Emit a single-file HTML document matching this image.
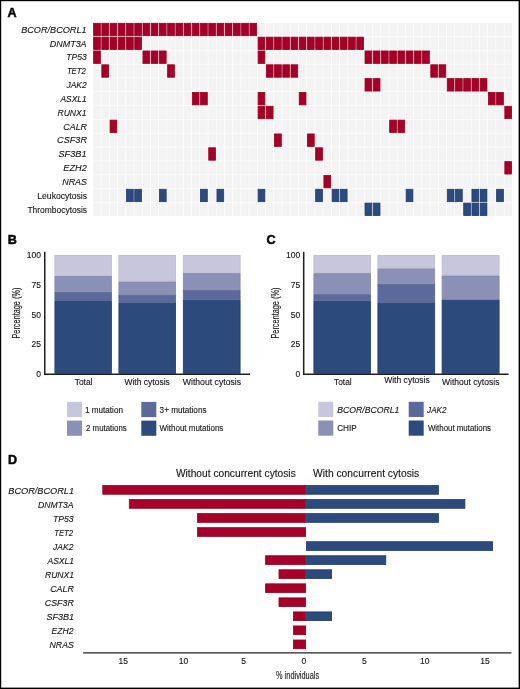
<!DOCTYPE html>
<html><head><meta charset="utf-8"><title>Figure</title>
<style>
html,body{margin:0;padding:0;background:#fff;}
body{width:520px;height:689px;overflow:hidden;position:relative;}
svg{position:absolute;left:0;top:0;display:block;will-change:transform;}
text{font-family:"Liberation Sans", sans-serif;fill:#141414;stroke:#141414;stroke-width:0.12px;}
.pl{font-weight:bold;font-size:12.6px;fill:#000;stroke-width:0.55px;}
.la{font-style:italic;font-size:9.9px;}
.lb{font-size:9.5px;}
.tk{font-size:8.5px;}
.yt{font-size:10.8px;}
.xl{font-size:9.0px;}
.lg{font-size:8.5px;}
.lgi{font-size:8.5px;font-style:italic;}
.ttl{font-size:10.2px;}
.ld{font-style:italic;font-size:9.6px;}
</style></head>
<body>
<svg width="520" height="689" viewBox="0 0 520 689">
<rect x="0" y="0" width="520" height="689" fill="#fff"/>
<text x="7.60" y="16.60" class="pl">A</text>
<rect x="93.60" y="23.30" width="6.77" height="12.43" fill="#a50029" stroke="#97001a" stroke-width="0.8"/>
<rect x="101.82" y="23.30" width="6.77" height="12.43" fill="#a50029" stroke="#97001a" stroke-width="0.8"/>
<rect x="110.05" y="23.30" width="6.77" height="12.43" fill="#a50029" stroke="#97001a" stroke-width="0.8"/>
<rect x="118.27" y="23.30" width="6.77" height="12.43" fill="#a50029" stroke="#97001a" stroke-width="0.8"/>
<rect x="126.50" y="23.30" width="6.77" height="12.43" fill="#a50029" stroke="#97001a" stroke-width="0.8"/>
<rect x="134.72" y="23.30" width="6.77" height="12.43" fill="#a50029" stroke="#97001a" stroke-width="0.8"/>
<rect x="142.95" y="23.30" width="6.77" height="12.43" fill="#a50029" stroke="#97001a" stroke-width="0.8"/>
<rect x="151.17" y="23.30" width="6.77" height="12.43" fill="#a50029" stroke="#97001a" stroke-width="0.8"/>
<rect x="159.40" y="23.30" width="6.77" height="12.43" fill="#a50029" stroke="#97001a" stroke-width="0.8"/>
<rect x="167.62" y="23.30" width="6.77" height="12.43" fill="#a50029" stroke="#97001a" stroke-width="0.8"/>
<rect x="175.85" y="23.30" width="6.77" height="12.43" fill="#a50029" stroke="#97001a" stroke-width="0.8"/>
<rect x="184.07" y="23.30" width="6.77" height="12.43" fill="#a50029" stroke="#97001a" stroke-width="0.8"/>
<rect x="192.29" y="23.30" width="6.77" height="12.43" fill="#a50029" stroke="#97001a" stroke-width="0.8"/>
<rect x="200.52" y="23.30" width="6.77" height="12.43" fill="#a50029" stroke="#97001a" stroke-width="0.8"/>
<rect x="208.74" y="23.30" width="6.77" height="12.43" fill="#a50029" stroke="#97001a" stroke-width="0.8"/>
<rect x="216.97" y="23.30" width="6.77" height="12.43" fill="#a50029" stroke="#97001a" stroke-width="0.8"/>
<rect x="225.19" y="23.30" width="6.77" height="12.43" fill="#a50029" stroke="#97001a" stroke-width="0.8"/>
<rect x="233.42" y="23.30" width="6.77" height="12.43" fill="#a50029" stroke="#97001a" stroke-width="0.8"/>
<rect x="241.64" y="23.30" width="6.77" height="12.43" fill="#a50029" stroke="#97001a" stroke-width="0.8"/>
<rect x="249.87" y="23.30" width="6.77" height="12.43" fill="#a50029" stroke="#97001a" stroke-width="0.8"/>
<rect x="257.69" y="22.90" width="7.57" height="13.23" fill="#f3f3f3"/>
<rect x="265.91" y="22.90" width="7.57" height="13.23" fill="#f3f3f3"/>
<rect x="274.14" y="22.90" width="7.57" height="13.23" fill="#f3f3f3"/>
<rect x="282.36" y="22.90" width="7.57" height="13.23" fill="#f3f3f3"/>
<rect x="290.59" y="22.90" width="7.57" height="13.23" fill="#f3f3f3"/>
<rect x="298.81" y="22.90" width="7.57" height="13.23" fill="#f3f3f3"/>
<rect x="307.04" y="22.90" width="7.57" height="13.23" fill="#f3f3f3"/>
<rect x="315.26" y="22.90" width="7.57" height="13.23" fill="#f3f3f3"/>
<rect x="323.49" y="22.90" width="7.57" height="13.23" fill="#f3f3f3"/>
<rect x="331.71" y="22.90" width="7.57" height="13.23" fill="#f3f3f3"/>
<rect x="339.94" y="22.90" width="7.57" height="13.23" fill="#f3f3f3"/>
<rect x="348.16" y="22.90" width="7.57" height="13.23" fill="#f3f3f3"/>
<rect x="356.38" y="22.90" width="7.57" height="13.23" fill="#f3f3f3"/>
<rect x="364.61" y="22.90" width="7.57" height="13.23" fill="#f3f3f3"/>
<rect x="372.83" y="22.90" width="7.57" height="13.23" fill="#f3f3f3"/>
<rect x="381.06" y="22.90" width="7.57" height="13.23" fill="#f3f3f3"/>
<rect x="389.28" y="22.90" width="7.57" height="13.23" fill="#f3f3f3"/>
<rect x="397.51" y="22.90" width="7.57" height="13.23" fill="#f3f3f3"/>
<rect x="405.73" y="22.90" width="7.57" height="13.23" fill="#f3f3f3"/>
<rect x="413.96" y="22.90" width="7.57" height="13.23" fill="#f3f3f3"/>
<rect x="422.18" y="22.90" width="7.57" height="13.23" fill="#f3f3f3"/>
<rect x="430.40" y="22.90" width="7.57" height="13.23" fill="#f3f3f3"/>
<rect x="438.63" y="22.90" width="7.57" height="13.23" fill="#f3f3f3"/>
<rect x="446.85" y="22.90" width="7.57" height="13.23" fill="#f3f3f3"/>
<rect x="455.08" y="22.90" width="7.57" height="13.23" fill="#f3f3f3"/>
<rect x="463.30" y="22.90" width="7.57" height="13.23" fill="#f3f3f3"/>
<rect x="471.53" y="22.90" width="7.57" height="13.23" fill="#f3f3f3"/>
<rect x="479.75" y="22.90" width="7.57" height="13.23" fill="#f3f3f3"/>
<rect x="487.98" y="22.90" width="7.57" height="13.23" fill="#f3f3f3"/>
<rect x="496.20" y="22.90" width="7.57" height="13.23" fill="#f3f3f3"/>
<rect x="504.43" y="22.90" width="7.57" height="13.23" fill="#f3f3f3"/>
<text x="86.60" y="32.72" class="la" text-anchor="end" textLength="65.44" lengthAdjust="spacingAndGlyphs">BCOR/BCORL1</text>
<rect x="93.60" y="37.13" width="6.77" height="12.43" fill="#a50029" stroke="#97001a" stroke-width="0.8"/>
<rect x="101.82" y="37.13" width="6.77" height="12.43" fill="#a50029" stroke="#97001a" stroke-width="0.8"/>
<rect x="110.05" y="37.13" width="6.77" height="12.43" fill="#a50029" stroke="#97001a" stroke-width="0.8"/>
<rect x="118.27" y="37.13" width="6.77" height="12.43" fill="#a50029" stroke="#97001a" stroke-width="0.8"/>
<rect x="126.50" y="37.13" width="6.77" height="12.43" fill="#a50029" stroke="#97001a" stroke-width="0.8"/>
<rect x="134.72" y="37.13" width="6.77" height="12.43" fill="#a50029" stroke="#97001a" stroke-width="0.8"/>
<rect x="142.55" y="36.73" width="7.57" height="13.23" fill="#f3f3f3"/>
<rect x="150.77" y="36.73" width="7.57" height="13.23" fill="#f3f3f3"/>
<rect x="159.00" y="36.73" width="7.57" height="13.23" fill="#f3f3f3"/>
<rect x="167.22" y="36.73" width="7.57" height="13.23" fill="#f3f3f3"/>
<rect x="175.45" y="36.73" width="7.57" height="13.23" fill="#f3f3f3"/>
<rect x="183.67" y="36.73" width="7.57" height="13.23" fill="#f3f3f3"/>
<rect x="191.89" y="36.73" width="7.57" height="13.23" fill="#f3f3f3"/>
<rect x="200.12" y="36.73" width="7.57" height="13.23" fill="#f3f3f3"/>
<rect x="208.34" y="36.73" width="7.57" height="13.23" fill="#f3f3f3"/>
<rect x="216.57" y="36.73" width="7.57" height="13.23" fill="#f3f3f3"/>
<rect x="224.79" y="36.73" width="7.57" height="13.23" fill="#f3f3f3"/>
<rect x="233.02" y="36.73" width="7.57" height="13.23" fill="#f3f3f3"/>
<rect x="241.24" y="36.73" width="7.57" height="13.23" fill="#f3f3f3"/>
<rect x="249.47" y="36.73" width="7.57" height="13.23" fill="#f3f3f3"/>
<rect x="258.09" y="37.13" width="6.77" height="12.43" fill="#a50029" stroke="#97001a" stroke-width="0.8"/>
<rect x="266.31" y="37.13" width="6.77" height="12.43" fill="#a50029" stroke="#97001a" stroke-width="0.8"/>
<rect x="274.54" y="37.13" width="6.77" height="12.43" fill="#a50029" stroke="#97001a" stroke-width="0.8"/>
<rect x="282.76" y="37.13" width="6.77" height="12.43" fill="#a50029" stroke="#97001a" stroke-width="0.8"/>
<rect x="290.99" y="37.13" width="6.77" height="12.43" fill="#a50029" stroke="#97001a" stroke-width="0.8"/>
<rect x="299.21" y="37.13" width="6.77" height="12.43" fill="#a50029" stroke="#97001a" stroke-width="0.8"/>
<rect x="307.44" y="37.13" width="6.77" height="12.43" fill="#a50029" stroke="#97001a" stroke-width="0.8"/>
<rect x="315.66" y="37.13" width="6.77" height="12.43" fill="#a50029" stroke="#97001a" stroke-width="0.8"/>
<rect x="323.89" y="37.13" width="6.77" height="12.43" fill="#a50029" stroke="#97001a" stroke-width="0.8"/>
<rect x="332.11" y="37.13" width="6.77" height="12.43" fill="#a50029" stroke="#97001a" stroke-width="0.8"/>
<rect x="340.34" y="37.13" width="6.77" height="12.43" fill="#a50029" stroke="#97001a" stroke-width="0.8"/>
<rect x="348.56" y="37.13" width="6.77" height="12.43" fill="#a50029" stroke="#97001a" stroke-width="0.8"/>
<rect x="356.78" y="37.13" width="6.77" height="12.43" fill="#a50029" stroke="#97001a" stroke-width="0.8"/>
<rect x="364.61" y="36.73" width="7.57" height="13.23" fill="#f3f3f3"/>
<rect x="372.83" y="36.73" width="7.57" height="13.23" fill="#f3f3f3"/>
<rect x="381.06" y="36.73" width="7.57" height="13.23" fill="#f3f3f3"/>
<rect x="389.28" y="36.73" width="7.57" height="13.23" fill="#f3f3f3"/>
<rect x="397.51" y="36.73" width="7.57" height="13.23" fill="#f3f3f3"/>
<rect x="405.73" y="36.73" width="7.57" height="13.23" fill="#f3f3f3"/>
<rect x="413.96" y="36.73" width="7.57" height="13.23" fill="#f3f3f3"/>
<rect x="422.18" y="36.73" width="7.57" height="13.23" fill="#f3f3f3"/>
<rect x="430.40" y="36.73" width="7.57" height="13.23" fill="#f3f3f3"/>
<rect x="438.63" y="36.73" width="7.57" height="13.23" fill="#f3f3f3"/>
<rect x="446.85" y="36.73" width="7.57" height="13.23" fill="#f3f3f3"/>
<rect x="455.08" y="36.73" width="7.57" height="13.23" fill="#f3f3f3"/>
<rect x="463.30" y="36.73" width="7.57" height="13.23" fill="#f3f3f3"/>
<rect x="471.53" y="36.73" width="7.57" height="13.23" fill="#f3f3f3"/>
<rect x="479.75" y="36.73" width="7.57" height="13.23" fill="#f3f3f3"/>
<rect x="487.98" y="36.73" width="7.57" height="13.23" fill="#f3f3f3"/>
<rect x="496.20" y="36.73" width="7.57" height="13.23" fill="#f3f3f3"/>
<rect x="504.43" y="36.73" width="7.57" height="13.23" fill="#f3f3f3"/>
<text x="86.60" y="46.55" class="la" text-anchor="end" textLength="36.82" lengthAdjust="spacingAndGlyphs">DNMT3A</text>
<rect x="93.60" y="50.96" width="6.77" height="12.43" fill="#a50029" stroke="#97001a" stroke-width="0.8"/>
<rect x="101.42" y="50.56" width="7.57" height="13.23" fill="#f3f3f3"/>
<rect x="109.65" y="50.56" width="7.57" height="13.23" fill="#f3f3f3"/>
<rect x="117.87" y="50.56" width="7.57" height="13.23" fill="#f3f3f3"/>
<rect x="126.10" y="50.56" width="7.57" height="13.23" fill="#f3f3f3"/>
<rect x="134.32" y="50.56" width="7.57" height="13.23" fill="#f3f3f3"/>
<rect x="142.95" y="50.96" width="6.77" height="12.43" fill="#a50029" stroke="#97001a" stroke-width="0.8"/>
<rect x="151.17" y="50.96" width="6.77" height="12.43" fill="#a50029" stroke="#97001a" stroke-width="0.8"/>
<rect x="159.40" y="50.96" width="6.77" height="12.43" fill="#a50029" stroke="#97001a" stroke-width="0.8"/>
<rect x="167.22" y="50.56" width="7.57" height="13.23" fill="#f3f3f3"/>
<rect x="175.45" y="50.56" width="7.57" height="13.23" fill="#f3f3f3"/>
<rect x="183.67" y="50.56" width="7.57" height="13.23" fill="#f3f3f3"/>
<rect x="191.89" y="50.56" width="7.57" height="13.23" fill="#f3f3f3"/>
<rect x="200.12" y="50.56" width="7.57" height="13.23" fill="#f3f3f3"/>
<rect x="208.34" y="50.56" width="7.57" height="13.23" fill="#f3f3f3"/>
<rect x="216.57" y="50.56" width="7.57" height="13.23" fill="#f3f3f3"/>
<rect x="224.79" y="50.56" width="7.57" height="13.23" fill="#f3f3f3"/>
<rect x="233.02" y="50.56" width="7.57" height="13.23" fill="#f3f3f3"/>
<rect x="241.24" y="50.56" width="7.57" height="13.23" fill="#f3f3f3"/>
<rect x="249.47" y="50.56" width="7.57" height="13.23" fill="#f3f3f3"/>
<rect x="258.09" y="50.96" width="6.77" height="12.43" fill="#a50029" stroke="#97001a" stroke-width="0.8"/>
<rect x="265.91" y="50.56" width="7.57" height="13.23" fill="#f3f3f3"/>
<rect x="274.14" y="50.56" width="7.57" height="13.23" fill="#f3f3f3"/>
<rect x="282.36" y="50.56" width="7.57" height="13.23" fill="#f3f3f3"/>
<rect x="290.59" y="50.56" width="7.57" height="13.23" fill="#f3f3f3"/>
<rect x="298.81" y="50.56" width="7.57" height="13.23" fill="#f3f3f3"/>
<rect x="307.04" y="50.56" width="7.57" height="13.23" fill="#f3f3f3"/>
<rect x="315.26" y="50.56" width="7.57" height="13.23" fill="#f3f3f3"/>
<rect x="323.49" y="50.56" width="7.57" height="13.23" fill="#f3f3f3"/>
<rect x="331.71" y="50.56" width="7.57" height="13.23" fill="#f3f3f3"/>
<rect x="339.94" y="50.56" width="7.57" height="13.23" fill="#f3f3f3"/>
<rect x="348.16" y="50.56" width="7.57" height="13.23" fill="#f3f3f3"/>
<rect x="356.38" y="50.56" width="7.57" height="13.23" fill="#f3f3f3"/>
<rect x="365.01" y="50.96" width="6.77" height="12.43" fill="#a50029" stroke="#97001a" stroke-width="0.8"/>
<rect x="373.23" y="50.96" width="6.77" height="12.43" fill="#a50029" stroke="#97001a" stroke-width="0.8"/>
<rect x="381.46" y="50.96" width="6.77" height="12.43" fill="#a50029" stroke="#97001a" stroke-width="0.8"/>
<rect x="389.68" y="50.96" width="6.77" height="12.43" fill="#a50029" stroke="#97001a" stroke-width="0.8"/>
<rect x="397.91" y="50.96" width="6.77" height="12.43" fill="#a50029" stroke="#97001a" stroke-width="0.8"/>
<rect x="406.13" y="50.96" width="6.77" height="12.43" fill="#a50029" stroke="#97001a" stroke-width="0.8"/>
<rect x="414.36" y="50.96" width="6.77" height="12.43" fill="#a50029" stroke="#97001a" stroke-width="0.8"/>
<rect x="422.58" y="50.96" width="6.77" height="12.43" fill="#a50029" stroke="#97001a" stroke-width="0.8"/>
<rect x="430.40" y="50.56" width="7.57" height="13.23" fill="#f3f3f3"/>
<rect x="438.63" y="50.56" width="7.57" height="13.23" fill="#f3f3f3"/>
<rect x="446.85" y="50.56" width="7.57" height="13.23" fill="#f3f3f3"/>
<rect x="455.08" y="50.56" width="7.57" height="13.23" fill="#f3f3f3"/>
<rect x="463.30" y="50.56" width="7.57" height="13.23" fill="#f3f3f3"/>
<rect x="471.53" y="50.56" width="7.57" height="13.23" fill="#f3f3f3"/>
<rect x="479.75" y="50.56" width="7.57" height="13.23" fill="#f3f3f3"/>
<rect x="487.98" y="50.56" width="7.57" height="13.23" fill="#f3f3f3"/>
<rect x="496.20" y="50.56" width="7.57" height="13.23" fill="#f3f3f3"/>
<rect x="504.43" y="50.56" width="7.57" height="13.23" fill="#f3f3f3"/>
<text x="86.80" y="60.38" class="la" text-anchor="end" textLength="20.48" lengthAdjust="spacingAndGlyphs">TP53</text>
<rect x="93.20" y="64.39" width="7.57" height="13.23" fill="#f3f3f3"/>
<rect x="101.82" y="64.79" width="6.77" height="12.43" fill="#a50029" stroke="#97001a" stroke-width="0.8"/>
<rect x="109.65" y="64.39" width="7.57" height="13.23" fill="#f3f3f3"/>
<rect x="117.87" y="64.39" width="7.57" height="13.23" fill="#f3f3f3"/>
<rect x="126.10" y="64.39" width="7.57" height="13.23" fill="#f3f3f3"/>
<rect x="134.32" y="64.39" width="7.57" height="13.23" fill="#f3f3f3"/>
<rect x="142.55" y="64.39" width="7.57" height="13.23" fill="#f3f3f3"/>
<rect x="150.77" y="64.39" width="7.57" height="13.23" fill="#f3f3f3"/>
<rect x="159.00" y="64.39" width="7.57" height="13.23" fill="#f3f3f3"/>
<rect x="167.62" y="64.79" width="6.77" height="12.43" fill="#a50029" stroke="#97001a" stroke-width="0.8"/>
<rect x="175.45" y="64.39" width="7.57" height="13.23" fill="#f3f3f3"/>
<rect x="183.67" y="64.39" width="7.57" height="13.23" fill="#f3f3f3"/>
<rect x="191.89" y="64.39" width="7.57" height="13.23" fill="#f3f3f3"/>
<rect x="200.12" y="64.39" width="7.57" height="13.23" fill="#f3f3f3"/>
<rect x="208.34" y="64.39" width="7.57" height="13.23" fill="#f3f3f3"/>
<rect x="216.57" y="64.39" width="7.57" height="13.23" fill="#f3f3f3"/>
<rect x="224.79" y="64.39" width="7.57" height="13.23" fill="#f3f3f3"/>
<rect x="233.02" y="64.39" width="7.57" height="13.23" fill="#f3f3f3"/>
<rect x="241.24" y="64.39" width="7.57" height="13.23" fill="#f3f3f3"/>
<rect x="249.47" y="64.39" width="7.57" height="13.23" fill="#f3f3f3"/>
<rect x="257.69" y="64.39" width="7.57" height="13.23" fill="#f3f3f3"/>
<rect x="266.31" y="64.79" width="6.77" height="12.43" fill="#a50029" stroke="#97001a" stroke-width="0.8"/>
<rect x="274.54" y="64.79" width="6.77" height="12.43" fill="#a50029" stroke="#97001a" stroke-width="0.8"/>
<rect x="282.76" y="64.79" width="6.77" height="12.43" fill="#a50029" stroke="#97001a" stroke-width="0.8"/>
<rect x="290.99" y="64.79" width="6.77" height="12.43" fill="#a50029" stroke="#97001a" stroke-width="0.8"/>
<rect x="298.81" y="64.39" width="7.57" height="13.23" fill="#f3f3f3"/>
<rect x="307.04" y="64.39" width="7.57" height="13.23" fill="#f3f3f3"/>
<rect x="315.26" y="64.39" width="7.57" height="13.23" fill="#f3f3f3"/>
<rect x="323.49" y="64.39" width="7.57" height="13.23" fill="#f3f3f3"/>
<rect x="331.71" y="64.39" width="7.57" height="13.23" fill="#f3f3f3"/>
<rect x="339.94" y="64.39" width="7.57" height="13.23" fill="#f3f3f3"/>
<rect x="348.16" y="64.39" width="7.57" height="13.23" fill="#f3f3f3"/>
<rect x="356.38" y="64.39" width="7.57" height="13.23" fill="#f3f3f3"/>
<rect x="364.61" y="64.39" width="7.57" height="13.23" fill="#f3f3f3"/>
<rect x="372.83" y="64.39" width="7.57" height="13.23" fill="#f3f3f3"/>
<rect x="381.06" y="64.39" width="7.57" height="13.23" fill="#f3f3f3"/>
<rect x="389.28" y="64.39" width="7.57" height="13.23" fill="#f3f3f3"/>
<rect x="397.51" y="64.39" width="7.57" height="13.23" fill="#f3f3f3"/>
<rect x="405.73" y="64.39" width="7.57" height="13.23" fill="#f3f3f3"/>
<rect x="413.96" y="64.39" width="7.57" height="13.23" fill="#f3f3f3"/>
<rect x="422.18" y="64.39" width="7.57" height="13.23" fill="#f3f3f3"/>
<rect x="430.80" y="64.79" width="6.77" height="12.43" fill="#a50029" stroke="#97001a" stroke-width="0.8"/>
<rect x="439.03" y="64.79" width="6.77" height="12.43" fill="#a50029" stroke="#97001a" stroke-width="0.8"/>
<rect x="446.85" y="64.39" width="7.57" height="13.23" fill="#f3f3f3"/>
<rect x="455.08" y="64.39" width="7.57" height="13.23" fill="#f3f3f3"/>
<rect x="463.30" y="64.39" width="7.57" height="13.23" fill="#f3f3f3"/>
<rect x="471.53" y="64.39" width="7.57" height="13.23" fill="#f3f3f3"/>
<rect x="479.75" y="64.39" width="7.57" height="13.23" fill="#f3f3f3"/>
<rect x="487.98" y="64.39" width="7.57" height="13.23" fill="#f3f3f3"/>
<rect x="496.20" y="64.39" width="7.57" height="13.23" fill="#f3f3f3"/>
<rect x="504.43" y="64.39" width="7.57" height="13.23" fill="#f3f3f3"/>
<text x="85.80" y="74.20" class="la" text-anchor="end" textLength="18.92" lengthAdjust="spacingAndGlyphs">TET2</text>
<rect x="93.20" y="78.22" width="7.57" height="13.23" fill="#f3f3f3"/>
<rect x="101.42" y="78.22" width="7.57" height="13.23" fill="#f3f3f3"/>
<rect x="109.65" y="78.22" width="7.57" height="13.23" fill="#f3f3f3"/>
<rect x="117.87" y="78.22" width="7.57" height="13.23" fill="#f3f3f3"/>
<rect x="126.10" y="78.22" width="7.57" height="13.23" fill="#f3f3f3"/>
<rect x="134.32" y="78.22" width="7.57" height="13.23" fill="#f3f3f3"/>
<rect x="142.55" y="78.22" width="7.57" height="13.23" fill="#f3f3f3"/>
<rect x="150.77" y="78.22" width="7.57" height="13.23" fill="#f3f3f3"/>
<rect x="159.00" y="78.22" width="7.57" height="13.23" fill="#f3f3f3"/>
<rect x="167.22" y="78.22" width="7.57" height="13.23" fill="#f3f3f3"/>
<rect x="175.45" y="78.22" width="7.57" height="13.23" fill="#f3f3f3"/>
<rect x="183.67" y="78.22" width="7.57" height="13.23" fill="#f3f3f3"/>
<rect x="191.89" y="78.22" width="7.57" height="13.23" fill="#f3f3f3"/>
<rect x="200.12" y="78.22" width="7.57" height="13.23" fill="#f3f3f3"/>
<rect x="208.34" y="78.22" width="7.57" height="13.23" fill="#f3f3f3"/>
<rect x="216.57" y="78.22" width="7.57" height="13.23" fill="#f3f3f3"/>
<rect x="224.79" y="78.22" width="7.57" height="13.23" fill="#f3f3f3"/>
<rect x="233.02" y="78.22" width="7.57" height="13.23" fill="#f3f3f3"/>
<rect x="241.24" y="78.22" width="7.57" height="13.23" fill="#f3f3f3"/>
<rect x="249.47" y="78.22" width="7.57" height="13.23" fill="#f3f3f3"/>
<rect x="257.69" y="78.22" width="7.57" height="13.23" fill="#f3f3f3"/>
<rect x="265.91" y="78.22" width="7.57" height="13.23" fill="#f3f3f3"/>
<rect x="274.14" y="78.22" width="7.57" height="13.23" fill="#f3f3f3"/>
<rect x="282.36" y="78.22" width="7.57" height="13.23" fill="#f3f3f3"/>
<rect x="290.59" y="78.22" width="7.57" height="13.23" fill="#f3f3f3"/>
<rect x="298.81" y="78.22" width="7.57" height="13.23" fill="#f3f3f3"/>
<rect x="307.04" y="78.22" width="7.57" height="13.23" fill="#f3f3f3"/>
<rect x="315.26" y="78.22" width="7.57" height="13.23" fill="#f3f3f3"/>
<rect x="323.49" y="78.22" width="7.57" height="13.23" fill="#f3f3f3"/>
<rect x="331.71" y="78.22" width="7.57" height="13.23" fill="#f3f3f3"/>
<rect x="339.94" y="78.22" width="7.57" height="13.23" fill="#f3f3f3"/>
<rect x="348.16" y="78.22" width="7.57" height="13.23" fill="#f3f3f3"/>
<rect x="356.38" y="78.22" width="7.57" height="13.23" fill="#f3f3f3"/>
<rect x="365.01" y="78.62" width="6.77" height="12.43" fill="#a50029" stroke="#97001a" stroke-width="0.8"/>
<rect x="373.23" y="78.62" width="6.77" height="12.43" fill="#a50029" stroke="#97001a" stroke-width="0.8"/>
<rect x="381.06" y="78.22" width="7.57" height="13.23" fill="#f3f3f3"/>
<rect x="389.28" y="78.22" width="7.57" height="13.23" fill="#f3f3f3"/>
<rect x="397.51" y="78.22" width="7.57" height="13.23" fill="#f3f3f3"/>
<rect x="405.73" y="78.22" width="7.57" height="13.23" fill="#f3f3f3"/>
<rect x="413.96" y="78.22" width="7.57" height="13.23" fill="#f3f3f3"/>
<rect x="422.18" y="78.22" width="7.57" height="13.23" fill="#f3f3f3"/>
<rect x="430.40" y="78.22" width="7.57" height="13.23" fill="#f3f3f3"/>
<rect x="438.63" y="78.22" width="7.57" height="13.23" fill="#f3f3f3"/>
<rect x="447.25" y="78.62" width="6.77" height="12.43" fill="#a50029" stroke="#97001a" stroke-width="0.8"/>
<rect x="455.48" y="78.62" width="6.77" height="12.43" fill="#a50029" stroke="#97001a" stroke-width="0.8"/>
<rect x="463.70" y="78.62" width="6.77" height="12.43" fill="#a50029" stroke="#97001a" stroke-width="0.8"/>
<rect x="471.93" y="78.62" width="6.77" height="12.43" fill="#a50029" stroke="#97001a" stroke-width="0.8"/>
<rect x="480.15" y="78.62" width="6.77" height="12.43" fill="#a50029" stroke="#97001a" stroke-width="0.8"/>
<rect x="487.98" y="78.22" width="7.57" height="13.23" fill="#f3f3f3"/>
<rect x="496.20" y="78.22" width="7.57" height="13.23" fill="#f3f3f3"/>
<rect x="504.43" y="78.22" width="7.57" height="13.23" fill="#f3f3f3"/>
<text x="86.80" y="88.03" class="la" text-anchor="end" textLength="20.42" lengthAdjust="spacingAndGlyphs">JAK2</text>
<rect x="93.20" y="92.05" width="7.57" height="13.23" fill="#f3f3f3"/>
<rect x="101.42" y="92.05" width="7.57" height="13.23" fill="#f3f3f3"/>
<rect x="109.65" y="92.05" width="7.57" height="13.23" fill="#f3f3f3"/>
<rect x="117.87" y="92.05" width="7.57" height="13.23" fill="#f3f3f3"/>
<rect x="126.10" y="92.05" width="7.57" height="13.23" fill="#f3f3f3"/>
<rect x="134.32" y="92.05" width="7.57" height="13.23" fill="#f3f3f3"/>
<rect x="142.55" y="92.05" width="7.57" height="13.23" fill="#f3f3f3"/>
<rect x="150.77" y="92.05" width="7.57" height="13.23" fill="#f3f3f3"/>
<rect x="159.00" y="92.05" width="7.57" height="13.23" fill="#f3f3f3"/>
<rect x="167.22" y="92.05" width="7.57" height="13.23" fill="#f3f3f3"/>
<rect x="175.45" y="92.05" width="7.57" height="13.23" fill="#f3f3f3"/>
<rect x="183.67" y="92.05" width="7.57" height="13.23" fill="#f3f3f3"/>
<rect x="192.29" y="92.45" width="6.77" height="12.43" fill="#a50029" stroke="#97001a" stroke-width="0.8"/>
<rect x="200.52" y="92.45" width="6.77" height="12.43" fill="#a50029" stroke="#97001a" stroke-width="0.8"/>
<rect x="208.34" y="92.05" width="7.57" height="13.23" fill="#f3f3f3"/>
<rect x="216.57" y="92.05" width="7.57" height="13.23" fill="#f3f3f3"/>
<rect x="224.79" y="92.05" width="7.57" height="13.23" fill="#f3f3f3"/>
<rect x="233.02" y="92.05" width="7.57" height="13.23" fill="#f3f3f3"/>
<rect x="241.24" y="92.05" width="7.57" height="13.23" fill="#f3f3f3"/>
<rect x="249.47" y="92.05" width="7.57" height="13.23" fill="#f3f3f3"/>
<rect x="258.09" y="92.45" width="6.77" height="12.43" fill="#a50029" stroke="#97001a" stroke-width="0.8"/>
<rect x="265.91" y="92.05" width="7.57" height="13.23" fill="#f3f3f3"/>
<rect x="274.14" y="92.05" width="7.57" height="13.23" fill="#f3f3f3"/>
<rect x="282.36" y="92.05" width="7.57" height="13.23" fill="#f3f3f3"/>
<rect x="290.59" y="92.05" width="7.57" height="13.23" fill="#f3f3f3"/>
<rect x="299.21" y="92.45" width="6.77" height="12.43" fill="#a50029" stroke="#97001a" stroke-width="0.8"/>
<rect x="307.04" y="92.05" width="7.57" height="13.23" fill="#f3f3f3"/>
<rect x="315.26" y="92.05" width="7.57" height="13.23" fill="#f3f3f3"/>
<rect x="323.49" y="92.05" width="7.57" height="13.23" fill="#f3f3f3"/>
<rect x="331.71" y="92.05" width="7.57" height="13.23" fill="#f3f3f3"/>
<rect x="339.94" y="92.05" width="7.57" height="13.23" fill="#f3f3f3"/>
<rect x="348.16" y="92.05" width="7.57" height="13.23" fill="#f3f3f3"/>
<rect x="356.38" y="92.05" width="7.57" height="13.23" fill="#f3f3f3"/>
<rect x="364.61" y="92.05" width="7.57" height="13.23" fill="#f3f3f3"/>
<rect x="372.83" y="92.05" width="7.57" height="13.23" fill="#f3f3f3"/>
<rect x="381.06" y="92.05" width="7.57" height="13.23" fill="#f3f3f3"/>
<rect x="389.28" y="92.05" width="7.57" height="13.23" fill="#f3f3f3"/>
<rect x="397.51" y="92.05" width="7.57" height="13.23" fill="#f3f3f3"/>
<rect x="405.73" y="92.05" width="7.57" height="13.23" fill="#f3f3f3"/>
<rect x="413.96" y="92.05" width="7.57" height="13.23" fill="#f3f3f3"/>
<rect x="422.18" y="92.05" width="7.57" height="13.23" fill="#f3f3f3"/>
<rect x="430.40" y="92.05" width="7.57" height="13.23" fill="#f3f3f3"/>
<rect x="438.63" y="92.05" width="7.57" height="13.23" fill="#f3f3f3"/>
<rect x="446.85" y="92.05" width="7.57" height="13.23" fill="#f3f3f3"/>
<rect x="455.08" y="92.05" width="7.57" height="13.23" fill="#f3f3f3"/>
<rect x="463.30" y="92.05" width="7.57" height="13.23" fill="#f3f3f3"/>
<rect x="471.53" y="92.05" width="7.57" height="13.23" fill="#f3f3f3"/>
<rect x="479.75" y="92.05" width="7.57" height="13.23" fill="#f3f3f3"/>
<rect x="488.38" y="92.45" width="6.77" height="12.43" fill="#a50029" stroke="#97001a" stroke-width="0.8"/>
<rect x="496.60" y="92.45" width="6.77" height="12.43" fill="#a50029" stroke="#97001a" stroke-width="0.8"/>
<rect x="504.43" y="92.05" width="7.57" height="13.23" fill="#f3f3f3"/>
<text x="86.60" y="101.87" class="la" text-anchor="end" textLength="26.17" lengthAdjust="spacingAndGlyphs">ASXL1</text>
<rect x="93.20" y="105.88" width="7.57" height="13.23" fill="#f3f3f3"/>
<rect x="101.42" y="105.88" width="7.57" height="13.23" fill="#f3f3f3"/>
<rect x="109.65" y="105.88" width="7.57" height="13.23" fill="#f3f3f3"/>
<rect x="117.87" y="105.88" width="7.57" height="13.23" fill="#f3f3f3"/>
<rect x="126.10" y="105.88" width="7.57" height="13.23" fill="#f3f3f3"/>
<rect x="134.32" y="105.88" width="7.57" height="13.23" fill="#f3f3f3"/>
<rect x="142.55" y="105.88" width="7.57" height="13.23" fill="#f3f3f3"/>
<rect x="150.77" y="105.88" width="7.57" height="13.23" fill="#f3f3f3"/>
<rect x="159.00" y="105.88" width="7.57" height="13.23" fill="#f3f3f3"/>
<rect x="167.22" y="105.88" width="7.57" height="13.23" fill="#f3f3f3"/>
<rect x="175.45" y="105.88" width="7.57" height="13.23" fill="#f3f3f3"/>
<rect x="183.67" y="105.88" width="7.57" height="13.23" fill="#f3f3f3"/>
<rect x="191.89" y="105.88" width="7.57" height="13.23" fill="#f3f3f3"/>
<rect x="200.12" y="105.88" width="7.57" height="13.23" fill="#f3f3f3"/>
<rect x="208.34" y="105.88" width="7.57" height="13.23" fill="#f3f3f3"/>
<rect x="216.57" y="105.88" width="7.57" height="13.23" fill="#f3f3f3"/>
<rect x="224.79" y="105.88" width="7.57" height="13.23" fill="#f3f3f3"/>
<rect x="233.02" y="105.88" width="7.57" height="13.23" fill="#f3f3f3"/>
<rect x="241.24" y="105.88" width="7.57" height="13.23" fill="#f3f3f3"/>
<rect x="249.47" y="105.88" width="7.57" height="13.23" fill="#f3f3f3"/>
<rect x="258.09" y="106.28" width="6.77" height="12.43" fill="#a50029" stroke="#97001a" stroke-width="0.8"/>
<rect x="266.31" y="106.28" width="6.77" height="12.43" fill="#a50029" stroke="#97001a" stroke-width="0.8"/>
<rect x="274.14" y="105.88" width="7.57" height="13.23" fill="#f3f3f3"/>
<rect x="282.36" y="105.88" width="7.57" height="13.23" fill="#f3f3f3"/>
<rect x="290.59" y="105.88" width="7.57" height="13.23" fill="#f3f3f3"/>
<rect x="298.81" y="105.88" width="7.57" height="13.23" fill="#f3f3f3"/>
<rect x="307.04" y="105.88" width="7.57" height="13.23" fill="#f3f3f3"/>
<rect x="315.26" y="105.88" width="7.57" height="13.23" fill="#f3f3f3"/>
<rect x="323.49" y="105.88" width="7.57" height="13.23" fill="#f3f3f3"/>
<rect x="331.71" y="105.88" width="7.57" height="13.23" fill="#f3f3f3"/>
<rect x="339.94" y="105.88" width="7.57" height="13.23" fill="#f3f3f3"/>
<rect x="348.16" y="105.88" width="7.57" height="13.23" fill="#f3f3f3"/>
<rect x="356.38" y="105.88" width="7.57" height="13.23" fill="#f3f3f3"/>
<rect x="364.61" y="105.88" width="7.57" height="13.23" fill="#f3f3f3"/>
<rect x="372.83" y="105.88" width="7.57" height="13.23" fill="#f3f3f3"/>
<rect x="381.06" y="105.88" width="7.57" height="13.23" fill="#f3f3f3"/>
<rect x="389.28" y="105.88" width="7.57" height="13.23" fill="#f3f3f3"/>
<rect x="397.51" y="105.88" width="7.57" height="13.23" fill="#f3f3f3"/>
<rect x="405.73" y="105.88" width="7.57" height="13.23" fill="#f3f3f3"/>
<rect x="413.96" y="105.88" width="7.57" height="13.23" fill="#f3f3f3"/>
<rect x="422.18" y="105.88" width="7.57" height="13.23" fill="#f3f3f3"/>
<rect x="430.40" y="105.88" width="7.57" height="13.23" fill="#f3f3f3"/>
<rect x="438.63" y="105.88" width="7.57" height="13.23" fill="#f3f3f3"/>
<rect x="446.85" y="105.88" width="7.57" height="13.23" fill="#f3f3f3"/>
<rect x="455.08" y="105.88" width="7.57" height="13.23" fill="#f3f3f3"/>
<rect x="463.30" y="105.88" width="7.57" height="13.23" fill="#f3f3f3"/>
<rect x="471.53" y="105.88" width="7.57" height="13.23" fill="#f3f3f3"/>
<rect x="479.75" y="105.88" width="7.57" height="13.23" fill="#f3f3f3"/>
<rect x="487.98" y="105.88" width="7.57" height="13.23" fill="#f3f3f3"/>
<rect x="496.20" y="105.88" width="7.57" height="13.23" fill="#f3f3f3"/>
<rect x="504.83" y="106.28" width="6.77" height="12.43" fill="#a50029" stroke="#97001a" stroke-width="0.8"/>
<text x="86.60" y="115.69" class="la" text-anchor="end" textLength="29.17" lengthAdjust="spacingAndGlyphs">RUNX1</text>
<rect x="93.20" y="119.71" width="7.57" height="13.23" fill="#f3f3f3"/>
<rect x="101.42" y="119.71" width="7.57" height="13.23" fill="#f3f3f3"/>
<rect x="110.05" y="120.11" width="6.77" height="12.43" fill="#a50029" stroke="#97001a" stroke-width="0.8"/>
<rect x="117.87" y="119.71" width="7.57" height="13.23" fill="#f3f3f3"/>
<rect x="126.10" y="119.71" width="7.57" height="13.23" fill="#f3f3f3"/>
<rect x="134.32" y="119.71" width="7.57" height="13.23" fill="#f3f3f3"/>
<rect x="142.55" y="119.71" width="7.57" height="13.23" fill="#f3f3f3"/>
<rect x="150.77" y="119.71" width="7.57" height="13.23" fill="#f3f3f3"/>
<rect x="159.00" y="119.71" width="7.57" height="13.23" fill="#f3f3f3"/>
<rect x="167.22" y="119.71" width="7.57" height="13.23" fill="#f3f3f3"/>
<rect x="175.45" y="119.71" width="7.57" height="13.23" fill="#f3f3f3"/>
<rect x="183.67" y="119.71" width="7.57" height="13.23" fill="#f3f3f3"/>
<rect x="191.89" y="119.71" width="7.57" height="13.23" fill="#f3f3f3"/>
<rect x="200.12" y="119.71" width="7.57" height="13.23" fill="#f3f3f3"/>
<rect x="208.34" y="119.71" width="7.57" height="13.23" fill="#f3f3f3"/>
<rect x="216.57" y="119.71" width="7.57" height="13.23" fill="#f3f3f3"/>
<rect x="224.79" y="119.71" width="7.57" height="13.23" fill="#f3f3f3"/>
<rect x="233.02" y="119.71" width="7.57" height="13.23" fill="#f3f3f3"/>
<rect x="241.24" y="119.71" width="7.57" height="13.23" fill="#f3f3f3"/>
<rect x="249.47" y="119.71" width="7.57" height="13.23" fill="#f3f3f3"/>
<rect x="257.69" y="119.71" width="7.57" height="13.23" fill="#f3f3f3"/>
<rect x="265.91" y="119.71" width="7.57" height="13.23" fill="#f3f3f3"/>
<rect x="274.14" y="119.71" width="7.57" height="13.23" fill="#f3f3f3"/>
<rect x="282.36" y="119.71" width="7.57" height="13.23" fill="#f3f3f3"/>
<rect x="290.59" y="119.71" width="7.57" height="13.23" fill="#f3f3f3"/>
<rect x="298.81" y="119.71" width="7.57" height="13.23" fill="#f3f3f3"/>
<rect x="307.04" y="119.71" width="7.57" height="13.23" fill="#f3f3f3"/>
<rect x="315.26" y="119.71" width="7.57" height="13.23" fill="#f3f3f3"/>
<rect x="323.49" y="119.71" width="7.57" height="13.23" fill="#f3f3f3"/>
<rect x="331.71" y="119.71" width="7.57" height="13.23" fill="#f3f3f3"/>
<rect x="339.94" y="119.71" width="7.57" height="13.23" fill="#f3f3f3"/>
<rect x="348.16" y="119.71" width="7.57" height="13.23" fill="#f3f3f3"/>
<rect x="356.38" y="119.71" width="7.57" height="13.23" fill="#f3f3f3"/>
<rect x="364.61" y="119.71" width="7.57" height="13.23" fill="#f3f3f3"/>
<rect x="372.83" y="119.71" width="7.57" height="13.23" fill="#f3f3f3"/>
<rect x="381.06" y="119.71" width="7.57" height="13.23" fill="#f3f3f3"/>
<rect x="389.68" y="120.11" width="6.77" height="12.43" fill="#a50029" stroke="#97001a" stroke-width="0.8"/>
<rect x="397.91" y="120.11" width="6.77" height="12.43" fill="#a50029" stroke="#97001a" stroke-width="0.8"/>
<rect x="405.73" y="119.71" width="7.57" height="13.23" fill="#f3f3f3"/>
<rect x="413.96" y="119.71" width="7.57" height="13.23" fill="#f3f3f3"/>
<rect x="422.18" y="119.71" width="7.57" height="13.23" fill="#f3f3f3"/>
<rect x="430.40" y="119.71" width="7.57" height="13.23" fill="#f3f3f3"/>
<rect x="438.63" y="119.71" width="7.57" height="13.23" fill="#f3f3f3"/>
<rect x="446.85" y="119.71" width="7.57" height="13.23" fill="#f3f3f3"/>
<rect x="455.08" y="119.71" width="7.57" height="13.23" fill="#f3f3f3"/>
<rect x="463.30" y="119.71" width="7.57" height="13.23" fill="#f3f3f3"/>
<rect x="471.53" y="119.71" width="7.57" height="13.23" fill="#f3f3f3"/>
<rect x="479.75" y="119.71" width="7.57" height="13.23" fill="#f3f3f3"/>
<rect x="487.98" y="119.71" width="7.57" height="13.23" fill="#f3f3f3"/>
<rect x="496.20" y="119.71" width="7.57" height="13.23" fill="#f3f3f3"/>
<rect x="504.43" y="119.71" width="7.57" height="13.23" fill="#f3f3f3"/>
<text x="87.00" y="129.53" class="la" text-anchor="end" textLength="23.67" lengthAdjust="spacingAndGlyphs">CALR</text>
<rect x="93.20" y="133.54" width="7.57" height="13.23" fill="#f3f3f3"/>
<rect x="101.42" y="133.54" width="7.57" height="13.23" fill="#f3f3f3"/>
<rect x="109.65" y="133.54" width="7.57" height="13.23" fill="#f3f3f3"/>
<rect x="117.87" y="133.54" width="7.57" height="13.23" fill="#f3f3f3"/>
<rect x="126.10" y="133.54" width="7.57" height="13.23" fill="#f3f3f3"/>
<rect x="134.32" y="133.54" width="7.57" height="13.23" fill="#f3f3f3"/>
<rect x="142.55" y="133.54" width="7.57" height="13.23" fill="#f3f3f3"/>
<rect x="150.77" y="133.54" width="7.57" height="13.23" fill="#f3f3f3"/>
<rect x="159.00" y="133.54" width="7.57" height="13.23" fill="#f3f3f3"/>
<rect x="167.22" y="133.54" width="7.57" height="13.23" fill="#f3f3f3"/>
<rect x="175.45" y="133.54" width="7.57" height="13.23" fill="#f3f3f3"/>
<rect x="183.67" y="133.54" width="7.57" height="13.23" fill="#f3f3f3"/>
<rect x="191.89" y="133.54" width="7.57" height="13.23" fill="#f3f3f3"/>
<rect x="200.12" y="133.54" width="7.57" height="13.23" fill="#f3f3f3"/>
<rect x="208.34" y="133.54" width="7.57" height="13.23" fill="#f3f3f3"/>
<rect x="216.57" y="133.54" width="7.57" height="13.23" fill="#f3f3f3"/>
<rect x="224.79" y="133.54" width="7.57" height="13.23" fill="#f3f3f3"/>
<rect x="233.02" y="133.54" width="7.57" height="13.23" fill="#f3f3f3"/>
<rect x="241.24" y="133.54" width="7.57" height="13.23" fill="#f3f3f3"/>
<rect x="249.47" y="133.54" width="7.57" height="13.23" fill="#f3f3f3"/>
<rect x="257.69" y="133.54" width="7.57" height="13.23" fill="#f3f3f3"/>
<rect x="265.91" y="133.54" width="7.57" height="13.23" fill="#f3f3f3"/>
<rect x="274.54" y="133.94" width="6.77" height="12.43" fill="#a50029" stroke="#97001a" stroke-width="0.8"/>
<rect x="282.36" y="133.54" width="7.57" height="13.23" fill="#f3f3f3"/>
<rect x="290.59" y="133.54" width="7.57" height="13.23" fill="#f3f3f3"/>
<rect x="298.81" y="133.54" width="7.57" height="13.23" fill="#f3f3f3"/>
<rect x="307.44" y="133.94" width="6.77" height="12.43" fill="#a50029" stroke="#97001a" stroke-width="0.8"/>
<rect x="315.26" y="133.54" width="7.57" height="13.23" fill="#f3f3f3"/>
<rect x="323.49" y="133.54" width="7.57" height="13.23" fill="#f3f3f3"/>
<rect x="331.71" y="133.54" width="7.57" height="13.23" fill="#f3f3f3"/>
<rect x="339.94" y="133.54" width="7.57" height="13.23" fill="#f3f3f3"/>
<rect x="348.16" y="133.54" width="7.57" height="13.23" fill="#f3f3f3"/>
<rect x="356.38" y="133.54" width="7.57" height="13.23" fill="#f3f3f3"/>
<rect x="364.61" y="133.54" width="7.57" height="13.23" fill="#f3f3f3"/>
<rect x="372.83" y="133.54" width="7.57" height="13.23" fill="#f3f3f3"/>
<rect x="381.06" y="133.54" width="7.57" height="13.23" fill="#f3f3f3"/>
<rect x="389.28" y="133.54" width="7.57" height="13.23" fill="#f3f3f3"/>
<rect x="397.51" y="133.54" width="7.57" height="13.23" fill="#f3f3f3"/>
<rect x="405.73" y="133.54" width="7.57" height="13.23" fill="#f3f3f3"/>
<rect x="413.96" y="133.54" width="7.57" height="13.23" fill="#f3f3f3"/>
<rect x="422.18" y="133.54" width="7.57" height="13.23" fill="#f3f3f3"/>
<rect x="430.40" y="133.54" width="7.57" height="13.23" fill="#f3f3f3"/>
<rect x="438.63" y="133.54" width="7.57" height="13.23" fill="#f3f3f3"/>
<rect x="446.85" y="133.54" width="7.57" height="13.23" fill="#f3f3f3"/>
<rect x="455.08" y="133.54" width="7.57" height="13.23" fill="#f3f3f3"/>
<rect x="463.30" y="133.54" width="7.57" height="13.23" fill="#f3f3f3"/>
<rect x="471.53" y="133.54" width="7.57" height="13.23" fill="#f3f3f3"/>
<rect x="479.75" y="133.54" width="7.57" height="13.23" fill="#f3f3f3"/>
<rect x="487.98" y="133.54" width="7.57" height="13.23" fill="#f3f3f3"/>
<rect x="496.20" y="133.54" width="7.57" height="13.23" fill="#f3f3f3"/>
<rect x="504.43" y="133.54" width="7.57" height="13.23" fill="#f3f3f3"/>
<text x="87.00" y="143.35" class="la" text-anchor="end" textLength="29.90" lengthAdjust="spacingAndGlyphs">CSF3R</text>
<rect x="93.20" y="147.37" width="7.57" height="13.23" fill="#f3f3f3"/>
<rect x="101.42" y="147.37" width="7.57" height="13.23" fill="#f3f3f3"/>
<rect x="109.65" y="147.37" width="7.57" height="13.23" fill="#f3f3f3"/>
<rect x="117.87" y="147.37" width="7.57" height="13.23" fill="#f3f3f3"/>
<rect x="126.10" y="147.37" width="7.57" height="13.23" fill="#f3f3f3"/>
<rect x="134.32" y="147.37" width="7.57" height="13.23" fill="#f3f3f3"/>
<rect x="142.55" y="147.37" width="7.57" height="13.23" fill="#f3f3f3"/>
<rect x="150.77" y="147.37" width="7.57" height="13.23" fill="#f3f3f3"/>
<rect x="159.00" y="147.37" width="7.57" height="13.23" fill="#f3f3f3"/>
<rect x="167.22" y="147.37" width="7.57" height="13.23" fill="#f3f3f3"/>
<rect x="175.45" y="147.37" width="7.57" height="13.23" fill="#f3f3f3"/>
<rect x="183.67" y="147.37" width="7.57" height="13.23" fill="#f3f3f3"/>
<rect x="191.89" y="147.37" width="7.57" height="13.23" fill="#f3f3f3"/>
<rect x="200.12" y="147.37" width="7.57" height="13.23" fill="#f3f3f3"/>
<rect x="208.74" y="147.77" width="6.77" height="12.43" fill="#a50029" stroke="#97001a" stroke-width="0.8"/>
<rect x="216.57" y="147.37" width="7.57" height="13.23" fill="#f3f3f3"/>
<rect x="224.79" y="147.37" width="7.57" height="13.23" fill="#f3f3f3"/>
<rect x="233.02" y="147.37" width="7.57" height="13.23" fill="#f3f3f3"/>
<rect x="241.24" y="147.37" width="7.57" height="13.23" fill="#f3f3f3"/>
<rect x="249.47" y="147.37" width="7.57" height="13.23" fill="#f3f3f3"/>
<rect x="257.69" y="147.37" width="7.57" height="13.23" fill="#f3f3f3"/>
<rect x="265.91" y="147.37" width="7.57" height="13.23" fill="#f3f3f3"/>
<rect x="274.14" y="147.37" width="7.57" height="13.23" fill="#f3f3f3"/>
<rect x="282.36" y="147.37" width="7.57" height="13.23" fill="#f3f3f3"/>
<rect x="290.59" y="147.37" width="7.57" height="13.23" fill="#f3f3f3"/>
<rect x="298.81" y="147.37" width="7.57" height="13.23" fill="#f3f3f3"/>
<rect x="307.04" y="147.37" width="7.57" height="13.23" fill="#f3f3f3"/>
<rect x="315.66" y="147.77" width="6.77" height="12.43" fill="#a50029" stroke="#97001a" stroke-width="0.8"/>
<rect x="323.49" y="147.37" width="7.57" height="13.23" fill="#f3f3f3"/>
<rect x="331.71" y="147.37" width="7.57" height="13.23" fill="#f3f3f3"/>
<rect x="339.94" y="147.37" width="7.57" height="13.23" fill="#f3f3f3"/>
<rect x="348.16" y="147.37" width="7.57" height="13.23" fill="#f3f3f3"/>
<rect x="356.38" y="147.37" width="7.57" height="13.23" fill="#f3f3f3"/>
<rect x="364.61" y="147.37" width="7.57" height="13.23" fill="#f3f3f3"/>
<rect x="372.83" y="147.37" width="7.57" height="13.23" fill="#f3f3f3"/>
<rect x="381.06" y="147.37" width="7.57" height="13.23" fill="#f3f3f3"/>
<rect x="389.28" y="147.37" width="7.57" height="13.23" fill="#f3f3f3"/>
<rect x="397.51" y="147.37" width="7.57" height="13.23" fill="#f3f3f3"/>
<rect x="405.73" y="147.37" width="7.57" height="13.23" fill="#f3f3f3"/>
<rect x="413.96" y="147.37" width="7.57" height="13.23" fill="#f3f3f3"/>
<rect x="422.18" y="147.37" width="7.57" height="13.23" fill="#f3f3f3"/>
<rect x="430.40" y="147.37" width="7.57" height="13.23" fill="#f3f3f3"/>
<rect x="438.63" y="147.37" width="7.57" height="13.23" fill="#f3f3f3"/>
<rect x="446.85" y="147.37" width="7.57" height="13.23" fill="#f3f3f3"/>
<rect x="455.08" y="147.37" width="7.57" height="13.23" fill="#f3f3f3"/>
<rect x="463.30" y="147.37" width="7.57" height="13.23" fill="#f3f3f3"/>
<rect x="471.53" y="147.37" width="7.57" height="13.23" fill="#f3f3f3"/>
<rect x="479.75" y="147.37" width="7.57" height="13.23" fill="#f3f3f3"/>
<rect x="487.98" y="147.37" width="7.57" height="13.23" fill="#f3f3f3"/>
<rect x="496.20" y="147.37" width="7.57" height="13.23" fill="#f3f3f3"/>
<rect x="504.43" y="147.37" width="7.57" height="13.23" fill="#f3f3f3"/>
<text x="86.60" y="157.19" class="la" text-anchor="end" textLength="28.12" lengthAdjust="spacingAndGlyphs">SF3B1</text>
<rect x="93.20" y="161.20" width="7.57" height="13.23" fill="#f3f3f3"/>
<rect x="101.42" y="161.20" width="7.57" height="13.23" fill="#f3f3f3"/>
<rect x="109.65" y="161.20" width="7.57" height="13.23" fill="#f3f3f3"/>
<rect x="117.87" y="161.20" width="7.57" height="13.23" fill="#f3f3f3"/>
<rect x="126.10" y="161.20" width="7.57" height="13.23" fill="#f3f3f3"/>
<rect x="134.32" y="161.20" width="7.57" height="13.23" fill="#f3f3f3"/>
<rect x="142.55" y="161.20" width="7.57" height="13.23" fill="#f3f3f3"/>
<rect x="150.77" y="161.20" width="7.57" height="13.23" fill="#f3f3f3"/>
<rect x="159.00" y="161.20" width="7.57" height="13.23" fill="#f3f3f3"/>
<rect x="167.22" y="161.20" width="7.57" height="13.23" fill="#f3f3f3"/>
<rect x="175.45" y="161.20" width="7.57" height="13.23" fill="#f3f3f3"/>
<rect x="183.67" y="161.20" width="7.57" height="13.23" fill="#f3f3f3"/>
<rect x="191.89" y="161.20" width="7.57" height="13.23" fill="#f3f3f3"/>
<rect x="200.12" y="161.20" width="7.57" height="13.23" fill="#f3f3f3"/>
<rect x="208.34" y="161.20" width="7.57" height="13.23" fill="#f3f3f3"/>
<rect x="216.57" y="161.20" width="7.57" height="13.23" fill="#f3f3f3"/>
<rect x="224.79" y="161.20" width="7.57" height="13.23" fill="#f3f3f3"/>
<rect x="233.02" y="161.20" width="7.57" height="13.23" fill="#f3f3f3"/>
<rect x="241.24" y="161.20" width="7.57" height="13.23" fill="#f3f3f3"/>
<rect x="249.47" y="161.20" width="7.57" height="13.23" fill="#f3f3f3"/>
<rect x="257.69" y="161.20" width="7.57" height="13.23" fill="#f3f3f3"/>
<rect x="265.91" y="161.20" width="7.57" height="13.23" fill="#f3f3f3"/>
<rect x="274.14" y="161.20" width="7.57" height="13.23" fill="#f3f3f3"/>
<rect x="282.36" y="161.20" width="7.57" height="13.23" fill="#f3f3f3"/>
<rect x="290.59" y="161.20" width="7.57" height="13.23" fill="#f3f3f3"/>
<rect x="298.81" y="161.20" width="7.57" height="13.23" fill="#f3f3f3"/>
<rect x="307.04" y="161.20" width="7.57" height="13.23" fill="#f3f3f3"/>
<rect x="315.26" y="161.20" width="7.57" height="13.23" fill="#f3f3f3"/>
<rect x="323.49" y="161.20" width="7.57" height="13.23" fill="#f3f3f3"/>
<rect x="331.71" y="161.20" width="7.57" height="13.23" fill="#f3f3f3"/>
<rect x="339.94" y="161.20" width="7.57" height="13.23" fill="#f3f3f3"/>
<rect x="348.16" y="161.20" width="7.57" height="13.23" fill="#f3f3f3"/>
<rect x="356.38" y="161.20" width="7.57" height="13.23" fill="#f3f3f3"/>
<rect x="364.61" y="161.20" width="7.57" height="13.23" fill="#f3f3f3"/>
<rect x="372.83" y="161.20" width="7.57" height="13.23" fill="#f3f3f3"/>
<rect x="381.06" y="161.20" width="7.57" height="13.23" fill="#f3f3f3"/>
<rect x="389.28" y="161.20" width="7.57" height="13.23" fill="#f3f3f3"/>
<rect x="397.51" y="161.20" width="7.57" height="13.23" fill="#f3f3f3"/>
<rect x="405.73" y="161.20" width="7.57" height="13.23" fill="#f3f3f3"/>
<rect x="413.96" y="161.20" width="7.57" height="13.23" fill="#f3f3f3"/>
<rect x="422.18" y="161.20" width="7.57" height="13.23" fill="#f3f3f3"/>
<rect x="430.40" y="161.20" width="7.57" height="13.23" fill="#f3f3f3"/>
<rect x="438.63" y="161.20" width="7.57" height="13.23" fill="#f3f3f3"/>
<rect x="446.85" y="161.20" width="7.57" height="13.23" fill="#f3f3f3"/>
<rect x="455.08" y="161.20" width="7.57" height="13.23" fill="#f3f3f3"/>
<rect x="463.30" y="161.20" width="7.57" height="13.23" fill="#f3f3f3"/>
<rect x="471.53" y="161.20" width="7.57" height="13.23" fill="#f3f3f3"/>
<rect x="479.75" y="161.20" width="7.57" height="13.23" fill="#f3f3f3"/>
<rect x="487.98" y="161.20" width="7.57" height="13.23" fill="#f3f3f3"/>
<rect x="496.20" y="161.20" width="7.57" height="13.23" fill="#f3f3f3"/>
<rect x="504.83" y="161.60" width="6.77" height="12.43" fill="#a50029" stroke="#97001a" stroke-width="0.8"/>
<text x="86.80" y="171.02" class="la" text-anchor="end" textLength="23.43" lengthAdjust="spacingAndGlyphs">EZH2</text>
<rect x="93.20" y="175.03" width="7.57" height="13.23" fill="#f3f3f3"/>
<rect x="101.42" y="175.03" width="7.57" height="13.23" fill="#f3f3f3"/>
<rect x="109.65" y="175.03" width="7.57" height="13.23" fill="#f3f3f3"/>
<rect x="117.87" y="175.03" width="7.57" height="13.23" fill="#f3f3f3"/>
<rect x="126.10" y="175.03" width="7.57" height="13.23" fill="#f3f3f3"/>
<rect x="134.32" y="175.03" width="7.57" height="13.23" fill="#f3f3f3"/>
<rect x="142.55" y="175.03" width="7.57" height="13.23" fill="#f3f3f3"/>
<rect x="150.77" y="175.03" width="7.57" height="13.23" fill="#f3f3f3"/>
<rect x="159.00" y="175.03" width="7.57" height="13.23" fill="#f3f3f3"/>
<rect x="167.22" y="175.03" width="7.57" height="13.23" fill="#f3f3f3"/>
<rect x="175.45" y="175.03" width="7.57" height="13.23" fill="#f3f3f3"/>
<rect x="183.67" y="175.03" width="7.57" height="13.23" fill="#f3f3f3"/>
<rect x="191.89" y="175.03" width="7.57" height="13.23" fill="#f3f3f3"/>
<rect x="200.12" y="175.03" width="7.57" height="13.23" fill="#f3f3f3"/>
<rect x="208.34" y="175.03" width="7.57" height="13.23" fill="#f3f3f3"/>
<rect x="216.57" y="175.03" width="7.57" height="13.23" fill="#f3f3f3"/>
<rect x="224.79" y="175.03" width="7.57" height="13.23" fill="#f3f3f3"/>
<rect x="233.02" y="175.03" width="7.57" height="13.23" fill="#f3f3f3"/>
<rect x="241.24" y="175.03" width="7.57" height="13.23" fill="#f3f3f3"/>
<rect x="249.47" y="175.03" width="7.57" height="13.23" fill="#f3f3f3"/>
<rect x="257.69" y="175.03" width="7.57" height="13.23" fill="#f3f3f3"/>
<rect x="265.91" y="175.03" width="7.57" height="13.23" fill="#f3f3f3"/>
<rect x="274.14" y="175.03" width="7.57" height="13.23" fill="#f3f3f3"/>
<rect x="282.36" y="175.03" width="7.57" height="13.23" fill="#f3f3f3"/>
<rect x="290.59" y="175.03" width="7.57" height="13.23" fill="#f3f3f3"/>
<rect x="298.81" y="175.03" width="7.57" height="13.23" fill="#f3f3f3"/>
<rect x="307.04" y="175.03" width="7.57" height="13.23" fill="#f3f3f3"/>
<rect x="315.26" y="175.03" width="7.57" height="13.23" fill="#f3f3f3"/>
<rect x="323.89" y="175.43" width="6.77" height="12.43" fill="#a50029" stroke="#97001a" stroke-width="0.8"/>
<rect x="331.71" y="175.03" width="7.57" height="13.23" fill="#f3f3f3"/>
<rect x="339.94" y="175.03" width="7.57" height="13.23" fill="#f3f3f3"/>
<rect x="348.16" y="175.03" width="7.57" height="13.23" fill="#f3f3f3"/>
<rect x="356.38" y="175.03" width="7.57" height="13.23" fill="#f3f3f3"/>
<rect x="364.61" y="175.03" width="7.57" height="13.23" fill="#f3f3f3"/>
<rect x="372.83" y="175.03" width="7.57" height="13.23" fill="#f3f3f3"/>
<rect x="381.06" y="175.03" width="7.57" height="13.23" fill="#f3f3f3"/>
<rect x="389.28" y="175.03" width="7.57" height="13.23" fill="#f3f3f3"/>
<rect x="397.51" y="175.03" width="7.57" height="13.23" fill="#f3f3f3"/>
<rect x="405.73" y="175.03" width="7.57" height="13.23" fill="#f3f3f3"/>
<rect x="413.96" y="175.03" width="7.57" height="13.23" fill="#f3f3f3"/>
<rect x="422.18" y="175.03" width="7.57" height="13.23" fill="#f3f3f3"/>
<rect x="430.40" y="175.03" width="7.57" height="13.23" fill="#f3f3f3"/>
<rect x="438.63" y="175.03" width="7.57" height="13.23" fill="#f3f3f3"/>
<rect x="446.85" y="175.03" width="7.57" height="13.23" fill="#f3f3f3"/>
<rect x="455.08" y="175.03" width="7.57" height="13.23" fill="#f3f3f3"/>
<rect x="463.30" y="175.03" width="7.57" height="13.23" fill="#f3f3f3"/>
<rect x="471.53" y="175.03" width="7.57" height="13.23" fill="#f3f3f3"/>
<rect x="479.75" y="175.03" width="7.57" height="13.23" fill="#f3f3f3"/>
<rect x="487.98" y="175.03" width="7.57" height="13.23" fill="#f3f3f3"/>
<rect x="496.20" y="175.03" width="7.57" height="13.23" fill="#f3f3f3"/>
<rect x="504.43" y="175.03" width="7.57" height="13.23" fill="#f3f3f3"/>
<text x="87.00" y="184.84" class="la" text-anchor="end" textLength="24.79" lengthAdjust="spacingAndGlyphs">NRAS</text>
<rect x="93.20" y="188.86" width="7.57" height="13.23" fill="#f3f3f3"/>
<rect x="101.42" y="188.86" width="7.57" height="13.23" fill="#f3f3f3"/>
<rect x="109.65" y="188.86" width="7.57" height="13.23" fill="#f3f3f3"/>
<rect x="117.87" y="188.86" width="7.57" height="13.23" fill="#f3f3f3"/>
<rect x="126.50" y="189.26" width="6.77" height="12.43" fill="#2c4a7c" stroke="#1d3a72" stroke-width="0.8"/>
<rect x="134.72" y="189.26" width="6.77" height="12.43" fill="#2c4a7c" stroke="#1d3a72" stroke-width="0.8"/>
<rect x="142.55" y="188.86" width="7.57" height="13.23" fill="#f3f3f3"/>
<rect x="150.77" y="188.86" width="7.57" height="13.23" fill="#f3f3f3"/>
<rect x="159.40" y="189.26" width="6.77" height="12.43" fill="#2c4a7c" stroke="#1d3a72" stroke-width="0.8"/>
<rect x="167.22" y="188.86" width="7.57" height="13.23" fill="#f3f3f3"/>
<rect x="175.45" y="188.86" width="7.57" height="13.23" fill="#f3f3f3"/>
<rect x="183.67" y="188.86" width="7.57" height="13.23" fill="#f3f3f3"/>
<rect x="191.89" y="188.86" width="7.57" height="13.23" fill="#f3f3f3"/>
<rect x="200.52" y="189.26" width="6.77" height="12.43" fill="#2c4a7c" stroke="#1d3a72" stroke-width="0.8"/>
<rect x="208.34" y="188.86" width="7.57" height="13.23" fill="#f3f3f3"/>
<rect x="216.97" y="189.26" width="6.77" height="12.43" fill="#2c4a7c" stroke="#1d3a72" stroke-width="0.8"/>
<rect x="224.79" y="188.86" width="7.57" height="13.23" fill="#f3f3f3"/>
<rect x="233.02" y="188.86" width="7.57" height="13.23" fill="#f3f3f3"/>
<rect x="241.24" y="188.86" width="7.57" height="13.23" fill="#f3f3f3"/>
<rect x="249.47" y="188.86" width="7.57" height="13.23" fill="#f3f3f3"/>
<rect x="258.09" y="189.26" width="6.77" height="12.43" fill="#2c4a7c" stroke="#1d3a72" stroke-width="0.8"/>
<rect x="265.91" y="188.86" width="7.57" height="13.23" fill="#f3f3f3"/>
<rect x="274.14" y="188.86" width="7.57" height="13.23" fill="#f3f3f3"/>
<rect x="282.36" y="188.86" width="7.57" height="13.23" fill="#f3f3f3"/>
<rect x="290.59" y="188.86" width="7.57" height="13.23" fill="#f3f3f3"/>
<rect x="298.81" y="188.86" width="7.57" height="13.23" fill="#f3f3f3"/>
<rect x="307.04" y="188.86" width="7.57" height="13.23" fill="#f3f3f3"/>
<rect x="315.66" y="189.26" width="6.77" height="12.43" fill="#2c4a7c" stroke="#1d3a72" stroke-width="0.8"/>
<rect x="323.49" y="188.86" width="7.57" height="13.23" fill="#f3f3f3"/>
<rect x="332.11" y="189.26" width="6.77" height="12.43" fill="#2c4a7c" stroke="#1d3a72" stroke-width="0.8"/>
<rect x="340.34" y="189.26" width="6.77" height="12.43" fill="#2c4a7c" stroke="#1d3a72" stroke-width="0.8"/>
<rect x="348.16" y="188.86" width="7.57" height="13.23" fill="#f3f3f3"/>
<rect x="356.38" y="188.86" width="7.57" height="13.23" fill="#f3f3f3"/>
<rect x="364.61" y="188.86" width="7.57" height="13.23" fill="#f3f3f3"/>
<rect x="372.83" y="188.86" width="7.57" height="13.23" fill="#f3f3f3"/>
<rect x="381.06" y="188.86" width="7.57" height="13.23" fill="#f3f3f3"/>
<rect x="389.28" y="188.86" width="7.57" height="13.23" fill="#f3f3f3"/>
<rect x="397.51" y="188.86" width="7.57" height="13.23" fill="#f3f3f3"/>
<rect x="406.13" y="189.26" width="6.77" height="12.43" fill="#2c4a7c" stroke="#1d3a72" stroke-width="0.8"/>
<rect x="413.96" y="188.86" width="7.57" height="13.23" fill="#f3f3f3"/>
<rect x="422.18" y="188.86" width="7.57" height="13.23" fill="#f3f3f3"/>
<rect x="430.40" y="188.86" width="7.57" height="13.23" fill="#f3f3f3"/>
<rect x="438.63" y="188.86" width="7.57" height="13.23" fill="#f3f3f3"/>
<rect x="447.25" y="189.26" width="6.77" height="12.43" fill="#2c4a7c" stroke="#1d3a72" stroke-width="0.8"/>
<rect x="455.48" y="189.26" width="6.77" height="12.43" fill="#2c4a7c" stroke="#1d3a72" stroke-width="0.8"/>
<rect x="463.30" y="188.86" width="7.57" height="13.23" fill="#f3f3f3"/>
<rect x="471.93" y="189.26" width="6.77" height="12.43" fill="#2c4a7c" stroke="#1d3a72" stroke-width="0.8"/>
<rect x="480.15" y="189.26" width="6.77" height="12.43" fill="#2c4a7c" stroke="#1d3a72" stroke-width="0.8"/>
<rect x="487.98" y="188.86" width="7.57" height="13.23" fill="#f3f3f3"/>
<rect x="496.60" y="189.26" width="6.77" height="12.43" fill="#2c4a7c" stroke="#1d3a72" stroke-width="0.8"/>
<rect x="504.43" y="188.86" width="7.57" height="13.23" fill="#f3f3f3"/>
<text x="87.00" y="198.68" class="lb" text-anchor="end" textLength="49.69" lengthAdjust="spacingAndGlyphs">Leukocytosis</text>
<rect x="93.20" y="202.69" width="7.57" height="13.23" fill="#f3f3f3"/>
<rect x="101.42" y="202.69" width="7.57" height="13.23" fill="#f3f3f3"/>
<rect x="109.65" y="202.69" width="7.57" height="13.23" fill="#f3f3f3"/>
<rect x="117.87" y="202.69" width="7.57" height="13.23" fill="#f3f3f3"/>
<rect x="126.10" y="202.69" width="7.57" height="13.23" fill="#f3f3f3"/>
<rect x="134.32" y="202.69" width="7.57" height="13.23" fill="#f3f3f3"/>
<rect x="142.55" y="202.69" width="7.57" height="13.23" fill="#f3f3f3"/>
<rect x="150.77" y="202.69" width="7.57" height="13.23" fill="#f3f3f3"/>
<rect x="159.00" y="202.69" width="7.57" height="13.23" fill="#f3f3f3"/>
<rect x="167.22" y="202.69" width="7.57" height="13.23" fill="#f3f3f3"/>
<rect x="175.45" y="202.69" width="7.57" height="13.23" fill="#f3f3f3"/>
<rect x="183.67" y="202.69" width="7.57" height="13.23" fill="#f3f3f3"/>
<rect x="191.89" y="202.69" width="7.57" height="13.23" fill="#f3f3f3"/>
<rect x="200.12" y="202.69" width="7.57" height="13.23" fill="#f3f3f3"/>
<rect x="208.34" y="202.69" width="7.57" height="13.23" fill="#f3f3f3"/>
<rect x="216.57" y="202.69" width="7.57" height="13.23" fill="#f3f3f3"/>
<rect x="224.79" y="202.69" width="7.57" height="13.23" fill="#f3f3f3"/>
<rect x="233.02" y="202.69" width="7.57" height="13.23" fill="#f3f3f3"/>
<rect x="241.24" y="202.69" width="7.57" height="13.23" fill="#f3f3f3"/>
<rect x="249.47" y="202.69" width="7.57" height="13.23" fill="#f3f3f3"/>
<rect x="257.69" y="202.69" width="7.57" height="13.23" fill="#f3f3f3"/>
<rect x="265.91" y="202.69" width="7.57" height="13.23" fill="#f3f3f3"/>
<rect x="274.14" y="202.69" width="7.57" height="13.23" fill="#f3f3f3"/>
<rect x="282.36" y="202.69" width="7.57" height="13.23" fill="#f3f3f3"/>
<rect x="290.59" y="202.69" width="7.57" height="13.23" fill="#f3f3f3"/>
<rect x="298.81" y="202.69" width="7.57" height="13.23" fill="#f3f3f3"/>
<rect x="307.04" y="202.69" width="7.57" height="13.23" fill="#f3f3f3"/>
<rect x="315.26" y="202.69" width="7.57" height="13.23" fill="#f3f3f3"/>
<rect x="323.49" y="202.69" width="7.57" height="13.23" fill="#f3f3f3"/>
<rect x="331.71" y="202.69" width="7.57" height="13.23" fill="#f3f3f3"/>
<rect x="339.94" y="202.69" width="7.57" height="13.23" fill="#f3f3f3"/>
<rect x="348.16" y="202.69" width="7.57" height="13.23" fill="#f3f3f3"/>
<rect x="356.38" y="202.69" width="7.57" height="13.23" fill="#f3f3f3"/>
<rect x="365.01" y="203.09" width="6.77" height="12.43" fill="#2c4a7c" stroke="#1d3a72" stroke-width="0.8"/>
<rect x="373.23" y="203.09" width="6.77" height="12.43" fill="#2c4a7c" stroke="#1d3a72" stroke-width="0.8"/>
<rect x="381.06" y="202.69" width="7.57" height="13.23" fill="#f3f3f3"/>
<rect x="389.28" y="202.69" width="7.57" height="13.23" fill="#f3f3f3"/>
<rect x="397.51" y="202.69" width="7.57" height="13.23" fill="#f3f3f3"/>
<rect x="405.73" y="202.69" width="7.57" height="13.23" fill="#f3f3f3"/>
<rect x="413.96" y="202.69" width="7.57" height="13.23" fill="#f3f3f3"/>
<rect x="422.18" y="202.69" width="7.57" height="13.23" fill="#f3f3f3"/>
<rect x="430.40" y="202.69" width="7.57" height="13.23" fill="#f3f3f3"/>
<rect x="438.63" y="202.69" width="7.57" height="13.23" fill="#f3f3f3"/>
<rect x="446.85" y="202.69" width="7.57" height="13.23" fill="#f3f3f3"/>
<rect x="455.08" y="202.69" width="7.57" height="13.23" fill="#f3f3f3"/>
<rect x="463.70" y="203.09" width="6.77" height="12.43" fill="#2c4a7c" stroke="#1d3a72" stroke-width="0.8"/>
<rect x="471.93" y="203.09" width="6.77" height="12.43" fill="#2c4a7c" stroke="#1d3a72" stroke-width="0.8"/>
<rect x="480.15" y="203.09" width="6.77" height="12.43" fill="#2c4a7c" stroke="#1d3a72" stroke-width="0.8"/>
<rect x="487.98" y="202.69" width="7.57" height="13.23" fill="#f3f3f3"/>
<rect x="496.20" y="202.69" width="7.57" height="13.23" fill="#f3f3f3"/>
<rect x="504.43" y="202.69" width="7.57" height="13.23" fill="#f3f3f3"/>
<text x="87.00" y="212.50" class="lb" text-anchor="end" textLength="59.56" lengthAdjust="spacingAndGlyphs">Thrombocytosis</text>
<text x="7.70" y="244.20" class="pl">B</text>
<rect x="54.90" y="255.40" width="56.50" height="20.20" fill="#c6c7dc" stroke="#babbce" stroke-width="0.8"/>
<rect x="54.90" y="276.40" width="56.50" height="15.20" fill="#8b91b6" stroke="#8288ab" stroke-width="0.8"/>
<rect x="54.90" y="292.40" width="56.50" height="7.95" fill="#5b6a9a" stroke="#556390" stroke-width="0.8"/>
<rect x="54.90" y="301.15" width="56.50" height="72.15" fill="#2c4a7c" stroke="#1d3a72" stroke-width="0.8"/>
<rect x="118.90" y="255.40" width="56.70" height="25.80" fill="#c6c7dc" stroke="#babbce" stroke-width="0.8"/>
<rect x="118.90" y="282.00" width="56.70" height="12.35" fill="#8b91b6" stroke="#8288ab" stroke-width="0.8"/>
<rect x="118.90" y="295.15" width="56.70" height="7.20" fill="#5b6a9a" stroke="#556390" stroke-width="0.8"/>
<rect x="118.90" y="303.15" width="56.70" height="70.15" fill="#2c4a7c" stroke="#1d3a72" stroke-width="0.8"/>
<rect x="183.30" y="255.40" width="56.80" height="17.40" fill="#c6c7dc" stroke="#babbce" stroke-width="0.8"/>
<rect x="183.30" y="273.60" width="56.80" height="16.20" fill="#8b91b6" stroke="#8288ab" stroke-width="0.8"/>
<rect x="183.30" y="290.60" width="56.80" height="8.90" fill="#5b6a9a" stroke="#556390" stroke-width="0.8"/>
<rect x="183.30" y="300.30" width="56.80" height="73.00" fill="#2c4a7c" stroke="#1d3a72" stroke-width="0.8"/>
<line x1="44.75" y1="251.8" x2="44.75" y2="374.95" stroke="#1e1e1e" stroke-width="1.5"/>
<line x1="44.00" y1="374.2" x2="250.00" y2="374.2" stroke="#1e1e1e" stroke-width="1.5"/>
<text x="41.00" y="258.20" class="tk" text-anchor="end">100</text>
<text x="41.00" y="287.90" class="tk" text-anchor="end">75</text>
<text x="41.00" y="317.50" class="tk" text-anchor="end">50</text>
<text x="41.00" y="347.20" class="tk" text-anchor="end">25</text>
<text x="41.00" y="376.90" class="tk" text-anchor="end">0</text>
<text transform="translate(19.75,313.1) rotate(-90)" class="yt" text-anchor="middle" textLength="51" lengthAdjust="spacingAndGlyphs">Percentage (%)</text>
<text x="83.58" y="385.30" class="xl" text-anchor="middle" textLength="17.73" lengthAdjust="spacingAndGlyphs">Total</text>
<text x="147.12" y="385.30" class="xl" text-anchor="middle" textLength="45.38" lengthAdjust="spacingAndGlyphs">With cytosis</text>
<text x="211.95" y="385.30" class="xl" text-anchor="middle" textLength="58.32" lengthAdjust="spacingAndGlyphs">Without cytosis</text>
<rect x="67.00" y="401.90" width="15" height="15.2" fill="#c6c7dc"/>
<text x="85.00" y="412.70" class="lg" textLength="37.92" lengthAdjust="spacingAndGlyphs">1 mutation</text>
<rect x="67.00" y="420.60" width="15" height="15.2" fill="#8b91b6"/>
<text x="86.00" y="431.40" class="lg" textLength="40.78" lengthAdjust="spacingAndGlyphs">2 mutations</text>
<rect x="141.30" y="401.90" width="15" height="15.2" fill="#5b6a9a"/>
<text x="159.60" y="412.70" class="lg" textLength="46.90" lengthAdjust="spacingAndGlyphs">3+ mutations</text>
<rect x="141.30" y="420.60" width="15" height="15.2" fill="#2c4a7c"/>
<text x="159.60" y="431.40" class="lg" textLength="63.70" lengthAdjust="spacingAndGlyphs">Without mutations</text>
<text x="266.40" y="244.20" class="pl">C</text>
<rect x="313.90" y="255.40" width="56.60" height="17.45" fill="#c6c7dc" stroke="#babbce" stroke-width="0.8"/>
<rect x="313.90" y="273.65" width="56.60" height="20.20" fill="#8b91b6" stroke="#8288ab" stroke-width="0.8"/>
<rect x="313.90" y="294.65" width="56.60" height="5.95" fill="#5b6a9a" stroke="#556390" stroke-width="0.8"/>
<rect x="313.90" y="301.40" width="56.60" height="71.90" fill="#2c4a7c" stroke="#1d3a72" stroke-width="0.8"/>
<rect x="377.90" y="255.40" width="56.80" height="12.70" fill="#c6c7dc" stroke="#babbce" stroke-width="0.8"/>
<rect x="377.90" y="268.90" width="56.80" height="14.80" fill="#8b91b6" stroke="#8288ab" stroke-width="0.8"/>
<rect x="377.90" y="284.50" width="56.80" height="17.85" fill="#5b6a9a" stroke="#556390" stroke-width="0.8"/>
<rect x="377.90" y="303.15" width="56.80" height="70.15" fill="#2c4a7c" stroke="#1d3a72" stroke-width="0.8"/>
<rect x="442.10" y="255.40" width="57.00" height="19.80" fill="#c6c7dc" stroke="#babbce" stroke-width="0.8"/>
<rect x="442.10" y="276.00" width="57.00" height="23.40" fill="#8b91b6" stroke="#8288ab" stroke-width="0.8"/>
<rect x="442.10" y="300.20" width="57.00" height="73.10" fill="#2c4a7c" stroke="#1d3a72" stroke-width="0.8"/>
<line x1="303.70" y1="251.8" x2="303.70" y2="374.95" stroke="#1e1e1e" stroke-width="1.5"/>
<line x1="302.95" y1="374.2" x2="508.60" y2="374.2" stroke="#1e1e1e" stroke-width="1.5"/>
<text x="300.30" y="258.20" class="tk" text-anchor="end">100</text>
<text x="300.30" y="287.90" class="tk" text-anchor="end">75</text>
<text x="300.30" y="317.50" class="tk" text-anchor="end">50</text>
<text x="300.30" y="347.20" class="tk" text-anchor="end">25</text>
<text x="300.30" y="376.90" class="tk" text-anchor="end">0</text>
<text transform="translate(279.05,313.1) rotate(-90)" class="yt" text-anchor="middle" textLength="51" lengthAdjust="spacingAndGlyphs">Percentage (%)</text>
<text x="342.85" y="385.30" class="xl" text-anchor="middle" textLength="17.72" lengthAdjust="spacingAndGlyphs">Total</text>
<text x="406.95" y="383.30" class="xl" text-anchor="middle" textLength="45.56" lengthAdjust="spacingAndGlyphs">With cytosis</text>
<text x="470.70" y="385.30" class="xl" text-anchor="middle" textLength="57.57" lengthAdjust="spacingAndGlyphs">Without cytosis</text>
<rect x="318.30" y="401.80" width="15" height="15.2" fill="#c6c7dc"/>
<text x="337.20" y="412.60" class="lgi" textLength="62.12" lengthAdjust="spacingAndGlyphs">BCOR/BCORL1</text>
<rect x="318.30" y="420.50" width="15" height="15.2" fill="#8b91b6"/>
<text x="337.20" y="431.30" class="lg" textLength="19.63" lengthAdjust="spacingAndGlyphs">CHIP</text>
<rect x="408.70" y="401.80" width="15" height="15.2" fill="#5b6a9a"/>
<text x="427.10" y="412.60" class="lgi" textLength="19.41" lengthAdjust="spacingAndGlyphs">JAK2</text>
<rect x="408.70" y="420.50" width="15" height="15.2" fill="#2c4a7c"/>
<text x="427.90" y="431.30" class="lg" textLength="63.06" lengthAdjust="spacingAndGlyphs">Without mutations</text>
<text x="8.00" y="463.80" class="pl">D</text>
<text x="175.90" y="476.90" class="ttl" textLength="119.87" lengthAdjust="spacingAndGlyphs">Without concurrent cytosis</text>
<text x="313.10" y="476.90" class="ttl" textLength="106.13" lengthAdjust="spacingAndGlyphs">With concurrent cytosis</text>
<rect x="102.80" y="485.55" width="202.85" height="8.70" fill="#a50029" stroke="#97001a" stroke-width="0.8"/>
<rect x="306.45" y="485.55" width="132.05" height="8.70" fill="#2c4a7c" stroke="#1d3a72" stroke-width="0.8"/>
<text x="74.10" y="493.70" class="ld" text-anchor="end" textLength="65.84" lengthAdjust="spacingAndGlyphs">BCOR/BCORL1</text>
<rect x="129.30" y="499.59" width="176.35" height="8.70" fill="#a50029" stroke="#97001a" stroke-width="0.8"/>
<rect x="306.45" y="499.59" width="158.45" height="8.70" fill="#2c4a7c" stroke="#1d3a72" stroke-width="0.8"/>
<text x="73.50" y="507.74" class="ld" text-anchor="end" textLength="35.40" lengthAdjust="spacingAndGlyphs">DNMT3A</text>
<rect x="197.50" y="513.63" width="108.15" height="8.70" fill="#a50029" stroke="#97001a" stroke-width="0.8"/>
<rect x="306.45" y="513.63" width="132.05" height="8.70" fill="#2c4a7c" stroke="#1d3a72" stroke-width="0.8"/>
<text x="73.50" y="521.78" class="ld" text-anchor="end" textLength="20.60" lengthAdjust="spacingAndGlyphs">TP53</text>
<rect x="197.50" y="527.67" width="108.15" height="8.70" fill="#a50029" stroke="#97001a" stroke-width="0.8"/>
<text x="73.10" y="535.82" class="ld" text-anchor="end" textLength="18.85" lengthAdjust="spacingAndGlyphs">TET2</text>
<rect x="306.45" y="541.71" width="186.15" height="8.70" fill="#2c4a7c" stroke="#1d3a72" stroke-width="0.8"/>
<text x="73.50" y="549.86" class="ld" text-anchor="end" textLength="20.40" lengthAdjust="spacingAndGlyphs">JAK2</text>
<rect x="265.60" y="555.75" width="40.05" height="8.70" fill="#a50029" stroke="#97001a" stroke-width="0.8"/>
<rect x="306.45" y="555.75" width="79.35" height="8.70" fill="#2c4a7c" stroke="#1d3a72" stroke-width="0.8"/>
<text x="74.10" y="563.90" class="ld" text-anchor="end" textLength="26.64" lengthAdjust="spacingAndGlyphs">ASXL1</text>
<rect x="279.00" y="569.79" width="26.65" height="8.70" fill="#a50029" stroke="#97001a" stroke-width="0.8"/>
<rect x="306.45" y="569.79" width="25.15" height="8.70" fill="#2c4a7c" stroke="#1d3a72" stroke-width="0.8"/>
<text x="74.10" y="577.94" class="ld" text-anchor="end" textLength="29.16" lengthAdjust="spacingAndGlyphs">RUNX1</text>
<rect x="265.60" y="583.83" width="40.05" height="8.70" fill="#a50029" stroke="#97001a" stroke-width="0.8"/>
<text x="73.80" y="591.98" class="ld" text-anchor="end" textLength="23.54" lengthAdjust="spacingAndGlyphs">CALR</text>
<rect x="279.00" y="597.87" width="26.65" height="8.70" fill="#a50029" stroke="#97001a" stroke-width="0.8"/>
<text x="73.80" y="606.02" class="ld" text-anchor="end" textLength="28.94" lengthAdjust="spacingAndGlyphs">CSF3R</text>
<rect x="293.50" y="611.91" width="12.15" height="8.70" fill="#a50029" stroke="#97001a" stroke-width="0.8"/>
<rect x="306.45" y="611.91" width="25.15" height="8.70" fill="#2c4a7c" stroke="#1d3a72" stroke-width="0.8"/>
<text x="74.10" y="620.06" class="ld" text-anchor="end" textLength="27.57" lengthAdjust="spacingAndGlyphs">SF3B1</text>
<rect x="293.50" y="625.95" width="12.15" height="8.70" fill="#a50029" stroke="#97001a" stroke-width="0.8"/>
<text x="73.50" y="634.10" class="ld" text-anchor="end" textLength="22.03" lengthAdjust="spacingAndGlyphs">EZH2</text>
<rect x="293.50" y="639.99" width="12.15" height="8.70" fill="#a50029" stroke="#97001a" stroke-width="0.8"/>
<text x="73.80" y="648.14" class="ld" text-anchor="end" textLength="24.25" lengthAdjust="spacingAndGlyphs">NRAS</text>
<line x1="83.2" y1="652.8" x2="511.5" y2="652.8" stroke="#222" stroke-width="1.3"/>
<text x="123.30" y="664.40" class="tk" text-anchor="middle">15</text>
<text x="183.50" y="664.40" class="tk" text-anchor="middle">10</text>
<text x="243.70" y="664.40" class="tk" text-anchor="middle">5</text>
<text x="303.90" y="664.40" class="tk" text-anchor="middle">0</text>
<text x="364.30" y="664.40" class="tk" text-anchor="middle">5</text>
<text x="424.80" y="664.40" class="tk" text-anchor="middle">10</text>
<text x="484.90" y="664.40" class="tk" text-anchor="middle">15</text>
<text x="276.00" y="678.60" class="yt" textLength="43.13" lengthAdjust="spacingAndGlyphs">% individuals</text>
<rect x="0" y="0" width="1.2" height="689" fill="#000"/>
<rect x="518.6" y="0" width="1.4" height="689" fill="#000"/>
<rect x="0" y="0" width="520" height="1.2" fill="#000"/>
<rect x="0" y="687.6" width="520" height="1.4" fill="#000"/>
</svg>
</body></html>
